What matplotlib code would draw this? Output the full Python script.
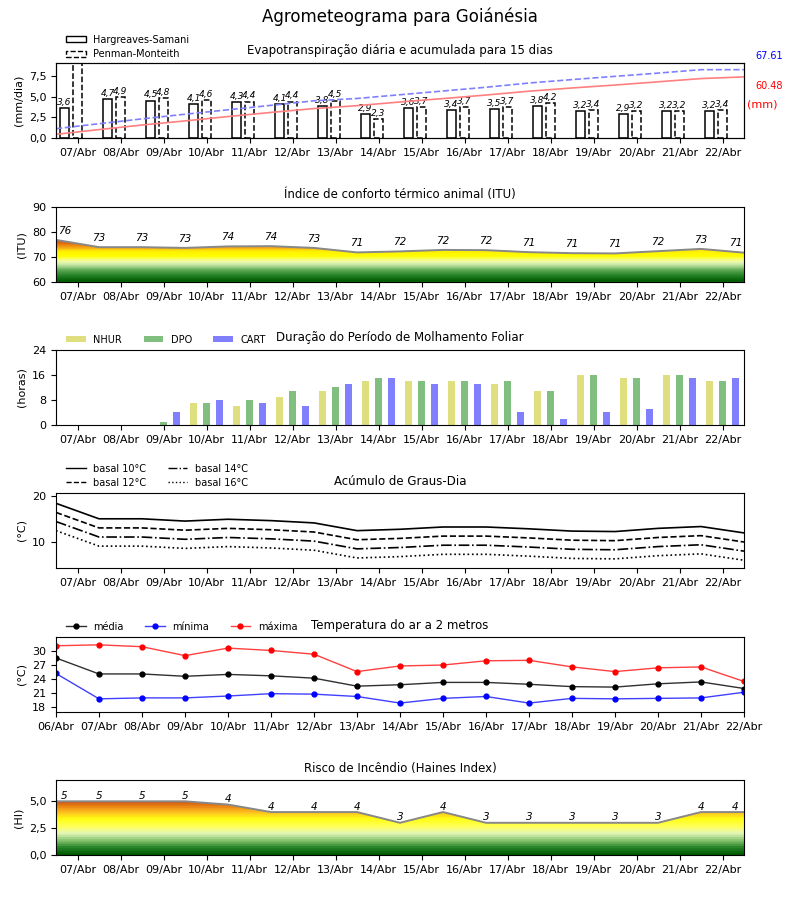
"""Agrometeograma para Goiánésia: six stacked panels."""

import matplotlib
matplotlib.use("Agg")
import matplotlib.pyplot as plt
import numpy as np
from matplotlib.colors import LinearSegmentedColormap, Normalize
from matplotlib.lines import Line2D
from matplotlib.patches import Patch

plt.rcParams["font.family"] = ["DejaVu Sans"]
plt.rcParams["font.size"] = 8

# ---- data ----
dias = ["06/Abr", "07/Abr", "08/Abr", "09/Abr", "10/Abr", "11/Abr", "12/Abr",
        "13/Abr", "14/Abr", "15/Abr", "16/Abr", "17/Abr", "18/Abr", "19/Abr",
        "20/Abr", "21/Abr", "22/Abr"]

et_hs = [3.6, 4.7, 4.5, 4.1, 4.3, 4.1, 3.8, 2.9, 3.6, 3.4, 3.5, 3.8, 3.2, 2.9, 3.2, 3.2]
et_pm = [9.2, 4.9, 4.8, 4.6, 4.4, 4.4, 4.5, 2.3, 3.7, 3.7, 3.7, 4.2, 3.4, 3.2, 3.2, 3.4]
acum_hs = [3.6, 8.3, 12.8, 16.9, 21.2, 25.3, 29.1, 32.0, 35.6, 39.0, 42.5, 46.3,
           49.5, 52.4, 55.6, 58.8, 60.48]
acum_pm = [9.2, 14.1, 18.9, 23.5, 27.9, 32.3, 36.8, 39.1, 42.8, 46.5, 50.2, 54.4,
           57.8, 61.0, 64.2, 67.61, 67.61]
total_hs = 60.48
total_pm = 67.61

itu = [76.8, 73.9, 73.9, 73.6, 74.2, 74.3, 73.6, 71.8, 72.2, 72.8, 72.7, 71.9,
       71.5, 71.4, 72.3, 73.2, 71.7]

nhur = [0, 0, 0, 7, 6, 9, 11, 14, 14, 14, 13, 11, 16, 15, 16, 14]
dpo = [0, 0, 1, 7, 8, 11, 12, 15, 14, 14, 14, 11, 16, 15, 16, 14]
cart = [0, 0, 4, 8, 7, 6, 13, 15, 13, 13, 4, 2, 4, 5, 15, 15]

gd10 = [18.5, 15.1, 15.1, 14.6, 15.0, 14.7, 14.2, 12.5, 12.8, 13.3, 13.3, 12.9, 12.4, 12.3, 13.0, 13.4, 12.0]
gd12 = [16.5, 13.1, 13.1, 12.6, 13.0, 12.7, 12.2, 10.5, 10.8, 11.3, 11.3, 10.9, 10.4, 10.3, 11.0, 11.4, 10.0]
gd14 = [14.5, 11.1, 11.1, 10.6, 11.0, 10.7, 10.2, 8.5, 8.8, 9.3, 9.3, 8.9, 8.4, 8.3, 9.0, 9.4, 8.0]
gd16 = [12.5, 9.1, 9.1, 8.6, 9.0, 8.7, 8.2, 6.5, 6.8, 7.3, 7.3, 6.9, 6.4, 6.3, 7.0, 7.4, 6.0]

t_media = [28.5, 25.1, 25.1, 24.6, 25.0, 24.7, 24.2, 22.5, 22.8, 23.3, 23.3, 22.9,
           22.4, 22.3, 23.0, 23.4, 22.0]
t_min = [25.2, 19.8, 20.0, 20.0, 20.4, 20.9, 20.8, 20.3, 18.9, 19.9, 20.3, 18.9,
         19.9, 19.8, 19.9, 20.0, 21.2]
t_max = [31.1, 31.3, 30.9, 29.0, 30.6, 30.1, 29.3, 25.6, 26.8, 27.0, 27.9, 28.0,
         26.6, 25.6, 26.4, 26.6, 23.5]

haines = [5, 5, 5, 5, 4.7, 4, 4, 4, 3, 4, 3, 3, 3, 3, 3, 4, 4]

# colour ramps (value, colour)
itu_stops = [(60, "#005c00"), (62.5, "#2a862a"), (64.5, "#5faa55"), (66, "#a8d890"),
             (67.5, "#e8f8b8"), (69, "#fbff70"), (70, "#ffff00"), (72.3, "#fff000"),
             (73.2, "#f8b818"), (74.5, "#ee8a10"), (76, "#dd5c0c"), (78, "#c83c00")]
hi_stops = [(0, "#005c00"), (0.7, "#2e8a2e"), (1.3, "#88c470"), (2.0, "#e4f8b8"),
            (2.6, "#ffff60"), (3.4, "#ffff10"), (3.9, "#ffcc20"), (4.4, "#f39a18"),
            (5.0, "#d45a10")]


def ramp(stops):
    lo, hi = stops[0][0], stops[-1][0]
    cm = LinearSegmentedColormap.from_list(
        "ramp", [((v - lo) / (hi - lo), c) for v, c in stops], N=24)
    return cm, Normalize(lo, hi)


def gradient_fill(ax, x, y, stops, ymin):
    cmap, norm = ramp(stops)
    poly = ax.fill_between(x, ymin, y, facecolor="none", edgecolor="none")
    top = max(y)
    grid = np.linspace(ymin, top, 300).reshape(-1, 1)
    im = ax.imshow(grid, cmap=cmap, norm=norm, aspect="auto", origin="lower",
                   extent=[x[0], x[-1], ymin, top], zorder=1)
    im.set_clip_path(poly.get_paths()[0], transform=ax.transData)
    ax.plot(x, y, color="#888888", lw=1.4, zorder=2)


def comma(v):
    return f"{v:.1f}".replace(".", ",")


def day_axis(ax, mid=True):
    ax.set_xlim(0, 16)
    if mid:
        ax.set_xticks(np.arange(16) + 0.5)
        ax.set_xticklabels(dias[1:])
    else:
        ax.set_xticks(np.arange(17))
        ax.set_xticklabels(dias)
    ax.tick_params(labelsize=8)


fig = plt.figure(figsize=(8, 9), dpi=100)
fig.suptitle("Agrometeograma para Goiánésia", y=0.992, fontsize=12)

L, W, H = 0.07, 0.86, 0.0835
bottoms = [0.8467, 0.6867, 0.5278, 0.3689, 0.2089, 0.05]
axes = [fig.add_axes([L, b, W, H]) for b in bottoms]
xd = np.arange(16)
xp = np.arange(17)

# 1) evapotranspiration
ax = axes[0]
ax.bar(xd + 0.2, et_hs, 0.2, facecolor="white", edgecolor="black", lw=1.1)
ax.bar(xd + 0.5, et_pm, 0.2, facecolor="white", edgecolor="black", lw=1.1, ls="--")
for i in range(16):
    ax.text(i + 0.2, et_hs[i] + 0.15, comma(et_hs[i]), ha="center", va="bottom",
            fontsize=6.5, style="italic", clip_on=True)
    ax.text(i + 0.5, et_pm[i] + 0.15, comma(et_pm[i]), ha="center", va="bottom",
            fontsize=6.5, style="italic", clip_on=True)
ax.set_ylim(0, 9.07)
ax.set_yticks([0, 2.5, 5, 7.5])
ax.set_yticklabels(["0,0", "2,5", "5,0", "7,5"])
ax.set_ylabel("(mm/dia)")
day_axis(ax)
ax2 = ax.twinx()
ax2.plot(xp, acum_hs, color="#ff8080", lw=1.2)
ax2.plot(xp, acum_pm, color="#8080ff", lw=1.2, ls="--")
ax2.set_ylim(0, 74.4)
ax2.set_yticks([])
ax2.set_xlim(0, 16)
ax.text(1.016, 1.09, f"{total_pm:.2f}", color="blue", transform=ax.transAxes,
        fontsize=7, va="center")
ax.text(1.016, 0.69, f"{total_hs:.2f}", color="red", transform=ax.transAxes,
        fontsize=7, va="center")
ax.text(1.004, 0.44, "(mm)", color="red", transform=ax.transAxes,
        fontsize=8, va="center")
ax.set_title("Evapotranspiração diária e acumulada para 15 dias", fontsize=8.5)
ax.legend(handles=[Patch(facecolor="white", edgecolor="black", lw=1),
                   Patch(facecolor="white", edgecolor="black", lw=1, ls="--")],
          labels=["Hargreaves-Samani", "Penman-Monteith"], loc="lower left",
          bbox_to_anchor=(0.005, 0.96), frameon=False, fontsize=7,
          handlelength=2.0, handleheight=0.6, borderpad=0.2, labelspacing=0.45)

# 2) ITU
ax = axes[1]
gradient_fill(ax, xp, itu, itu_stops, 60)
for i, v in enumerate(itu):
    ax.text(min(max(i, 0.2), 15.8), v + 3.7, f"{int(v)}", ha="center", va="center",
            fontsize=7.5, style="italic")
ax.set_ylim(60, 90)
ax.set_yticks([60, 70, 80, 90])
ax.set_ylabel("(ITU)")
day_axis(ax)
ax.set_title("Índice de conforto térmico animal (ITU)", fontsize=8.5)

# 3) leaf wetness
ax = axes[2]
ax.bar(xd + 0.2, nhur, 0.15, color="#dfdf80", label="NHUR")
ax.bar(xd + 0.5, dpo, 0.15, color="#80bf80", label="DPO")
ax.bar(xd + 0.8, cart, 0.15, color="#8080ff", label="CART")
ax.set_ylim(0, 24)
ax.set_yticks([0, 8, 16, 24])
ax.set_ylabel("(horas)")
day_axis(ax)
ax.set_title("Duração do Período de Molhamento Foliar", fontsize=8.5)
ax.legend(loc="lower left", bbox_to_anchor=(0.005, 0.98), ncol=3, frameon=False,
          fontsize=7, handlelength=2.0, handleheight=0.6, borderpad=0.2,
          columnspacing=2.2)

# 4) degree days
ax = axes[3]
ax.plot(xp, gd10, color="black", lw=1.2, ls="-")
ax.plot(xp, gd12, color="black", lw=1.2, ls="--")
ax.plot(xp, gd14, color="black", lw=1.2, ls="-.")
ax.plot(xp, gd16, color="black", lw=1.2, ls=":")
ax.set_ylim(4.3, 20.8)
ax.set_yticks([10, 20])
ax.set_ylabel("(°C)")
day_axis(ax)
ax.set_title("Acúmulo de Graus-Dia", fontsize=8.5)
ax.legend(handles=[Line2D([], [], color="black", lw=1, ls=s) for s in ["-", "--", "-.", ":"]],
          labels=["basal 10°C", "basal 12°C", "basal 14°C", "basal 16°C"],
          loc="lower left", bbox_to_anchor=(0.005, 0.98), ncol=2, frameon=False,
          fontsize=7, handlelength=2.0, borderpad=0.2, labelspacing=0.4,
          columnspacing=2.2)

# 5) air temperature
ax = axes[4]
ax.plot(xp, t_media, "-o", color="#303030", mfc="black", mec="black", ms=3.5, lw=1,
        label="média")
ax.plot(xp, t_min, "-o", color="#4040ff", mfc="blue", mec="blue", ms=3.5, lw=1,
        label="mínima")
ax.plot(xp, t_max, "-o", color="#ff4040", mfc="red", mec="red", ms=3.5, lw=1,
        label="máxima")
ax.set_ylim(17, 33)
ax.set_yticks([18, 21, 24, 27, 30])
ax.tick_params(axis="y", labelsize=6.5)
ax.set_ylabel("(°C)")
day_axis(ax, mid=False)
ax.set_title("Temperatura do ar a 2 metros", fontsize=8.5)
ax.legend(loc="lower left", bbox_to_anchor=(0.005, 0.98), ncol=3, frameon=False,
          fontsize=7, handlelength=2.0, borderpad=0.2, columnspacing=2.2)

# 6) Haines
ax = axes[5]
gradient_fill(ax, xp, haines, hi_stops, 0)
for i, v in enumerate(haines):
    ax.text(min(max(i, 0.2), 15.8), v + 0.5, f"{int(v)}", ha="center", va="center",
            fontsize=7.5, style="italic")
ax.set_ylim(0, 7)
ax.set_yticks([0, 2.5, 5])
ax.set_yticklabels(["0,0", "2,5", "5,0"])
ax.set_ylabel("(HI)")
day_axis(ax)
ax.set_title("Risco de Incêndio (Haines Index)", fontsize=8.5)

for a in axes:
    a.set_xlim(0, 16)

fig.savefig("out.png", dpi=100)
